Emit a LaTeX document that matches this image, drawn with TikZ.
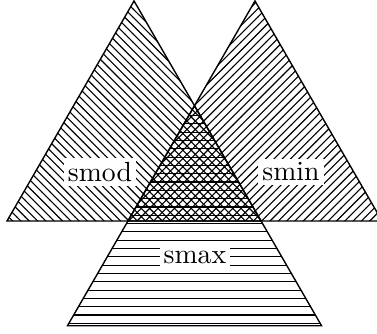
\documentclass[tikz,border=0pt]{standalone}
\usetikzlibrary{patterns}

\begin{document}
\begin{tikzpicture}[scale=0.921,
  tag/.style={fill=white, inner sep=1.5pt},
  tri/.style={draw=black, line width=0.5pt}]

  \useasboundingbox (-0.096,-1.543) rectangle (5.096,3.044);

  %% ===== CORNERS =====
  \coordinate (la) at (0,0);
  \coordinate (lb) at (3.5,0);
  \coordinate (lc) at (1.75,3.031);

  \coordinate (ra) at (1.666,0);
  \coordinate (rb) at (5.166,0);
  \coordinate (rc) at (3.416,3.031);

  \coordinate (ba) at (0.833,-1.443);
  \coordinate (bb) at (4.333,-1.443);
  \coordinate (bc) at (2.583,1.588);

  %% ===== TRIANGLES =====
  \draw[tri, pattern=north west lines] (la) -- (lb) -- (lc) -- cycle;
  \draw[tri, pattern=north east lines] (ra) -- (rb) -- (rc) -- cycle;
  \draw[tri, pattern=horizontal lines] (ba) -- (bb) -- (bc) -- cycle;

  %% ===== LABELS =====
  \node[tag] (smod) at (1.281,0.675) {smod};
  \node[tag] (smin) at (3.912,0.675) {smin};
  \node[tag] (smax) at (2.589,-0.496) {smax};

\end{tikzpicture}
\end{document}
